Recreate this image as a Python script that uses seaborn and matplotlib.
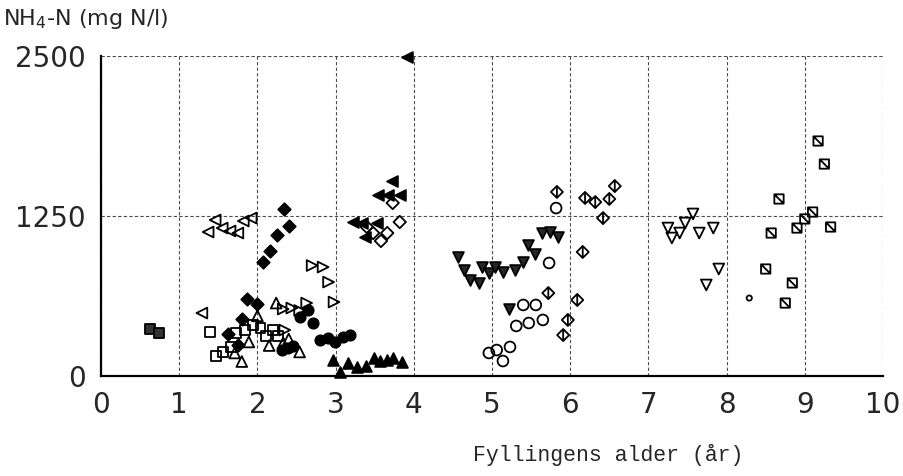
'''
NH4-N i sigevann mot fyllingens alder - gjenskaping av scannet figur
'''
import matplotlib
matplotlib.use("Agg")
import matplotlib.pyplot as plt
from matplotlib.path import Path
import numpy as np
import pandas as pd
import seaborn as sns

#%%
# data lest av figuren (x = alder i år, y = NH4-N mg N/l)
fsq_x = [0.63, 0.74]
fsq_y = [367, 336]

lt_open_x = [1.29, 1.37, 1.46, 1.55, 1.65, 1.75, 1.82, 1.92]
lt_open_y = [492, 1125, 1219, 1156, 1133, 1117, 1211, 1234]

dia_fill_x = [1.63, 1.75, 1.80, 1.87, 2.00, 2.07, 2.16, 2.25, 2.34, 2.40]
dia_fill_y = [328, 242, 445, 602, 562, 891, 977, 1102, 1305, 1172]

sq_open_x = [1.39, 1.47, 1.56, 1.66, 1.73, 1.84, 1.94, 2.04, 2.11, 2.20, 2.26]
sq_open_y = [344, 156, 188, 227, 336, 359, 398, 375, 312, 359, 312]

tri_open_x = [1.71, 1.80, 1.89, 2.00, 2.15, 2.24, 2.33, 2.40, 2.54]
tri_open_y = [180, 113, 266, 470, 238, 570, 258, 289, 188]

rt_open_x = [2.33, 2.35, 2.44, 2.54, 2.63, 2.70, 2.84, 2.91, 2.98]
rt_open_y = [523, 359, 531, 512, 570, 863, 851, 734, 578]

circ_fill_x = [2.31, 2.39, 2.46, 2.54, 2.65, 2.71, 2.80, 2.90, 2.99, 3.09, 3.18]
circ_fill_y = [203, 219, 234, 461, 516, 414, 281, 297, 266, 305, 320]

tri_fill_x = [2.97, 3.06, 3.16, 3.27, 3.39, 3.49, 3.57, 3.66, 3.73, 3.85]
tri_fill_y = [125, 31, 102, 70, 78, 141, 117, 125, 141, 109]

lt_fill_x = [3.22, 3.34, 3.38, 3.53, 3.54, 3.67, 3.72, 3.82, 3.91]
lt_fill_y = [1203, 1195, 1086, 1195, 1414, 1414, 1523, 1414, 2490]

dia_open_x = [3.40, 3.48, 3.58, 3.66, 3.73, 3.82]
dia_open_y = [1164, 1117, 1055, 1117, 1352, 1203]

dn_fill_x = [4.57, 4.64, 4.72, 4.83, 4.87, 4.96, 5.04, 5.14, 5.22, 5.29, 5.40,
             5.46, 5.55, 5.64, 5.74, 5.84]
dn_fill_y = [930, 828, 750, 727, 852, 805, 852, 813, 523, 828, 891,
             1023, 953, 1117, 1125, 1086]

circ_open_x = [4.96, 5.06, 5.14, 5.23, 5.31, 5.40, 5.47, 5.56, 5.65, 5.73, 5.82]
circ_open_y = [180, 203, 117, 227, 391, 555, 414, 555, 438, 883, 1312]

dia_bar_x = [5.72, 5.83, 5.91, 5.97, 6.09, 6.16, 6.19, 6.32, 6.42, 6.50, 6.57]
dia_bar_y = [648, 1438, 320, 438, 594, 969, 1391, 1359, 1234, 1383, 1484]

dn_open_x = [7.25, 7.30, 7.40, 7.47, 7.57, 7.65, 7.74, 7.83, 7.90]
dn_open_y = [1156, 1078, 1117, 1195, 1266, 1117, 711, 1156, 836]

small_circ_x = [8.29]
small_circ_y = [609]

sq_slash_x = [8.50, 8.57, 8.67, 8.75, 8.84, 8.90, 9.00, 9.10, 9.17, 9.25, 9.33]
sq_slash_y = [836, 1117, 1383, 570, 727, 1156, 1227, 1281, 1836, 1656, 1164]

x_ticks = list(range(0, 11))
y_ticks = [0, 1250, 2500]

#%%
# egne markører: kvadrat med diagonal og rute med loddrett strek
sq_diag = Path([(-1, -1), (1, -1), (1, 1), (-1, 1), (-1, -1), (-0.8, 0.8), (0.8, -0.8)],
               [Path.MOVETO, Path.LINETO, Path.LINETO, Path.LINETO, Path.CLOSEPOLY,
                Path.MOVETO, Path.LINETO])
dia_line = Path([(0, -1), (1, 0), (0, 1), (-1, 0), (0, -1), (0, 1), (0, -1)],
                [Path.MOVETO, Path.LINETO, Path.LINETO, Path.LINETO, Path.CLOSEPOLY,
                 Path.MOVETO, Path.LINETO])

# (x, y, markør, fyll, størrelse)
series = [
    (fsq_x, fsq_y, 's', '0.2', 45),
    (lt_open_x, lt_open_y, '<', 'none', 60),
    (sq_open_x, sq_open_y, 's', 'none', 50),
    (tri_open_x, tri_open_y, '^', 'none', 60),
    (rt_open_x, rt_open_y, '>', 'none', 60),
    (dia_fill_x, dia_fill_y, 'D', 'k', 40),
    (circ_fill_x, circ_fill_y, 'o', 'k', 55),
    (tri_fill_x, tri_fill_y, '^', 'k', 60),
    (lt_fill_x, lt_fill_y, '<', 'k', 60),
    (dia_open_x, dia_open_y, 'D', 'none', 40),
    (dn_fill_x, dn_fill_y, 'v', '0.15', 60),
    (circ_open_x, circ_open_y, 'o', 'none', 60),
    (dia_bar_x, dia_bar_y, dia_line, 'none', 75),
    (dn_open_x, dn_open_y, 'v', 'none', 60),
    (small_circ_x, small_circ_y, 'o', 'none', 14),
    (sq_slash_x, sq_slash_y, sq_diag, 'none', 45),
]

#%%
sns.set_style("white")
plt.rcParams['font.family'] = ['DejaVu Sans']

fig = plt.figure(figsize=(9.04, 4.76), dpi=100)
ax = fig.add_axes([101 / 904, 100 / 476, 782 / 904, 320 / 476])

for xs, ys, mk, fc, size in series:
    df = pd.DataFrame({'alder': xs, 'nh4': ys})
    sns.scatterplot(data=df, x='alder', y='nh4', ax=ax, marker=mk, s=size,
                    color='k', facecolor=fc, edgecolor='k', linewidth=1.3,
                    clip_on=False, zorder=3)

ax.set_xlim(0, 10)
ax.set_ylim(0, 2500)
ax.set_xticks(x_ticks)
ax.set_yticks(y_ticks)
ax.set_xticklabels([str(t) for t in x_ticks], fontsize=20)
ax.set_yticklabels([str(t) for t in y_ticks], fontsize=20)
ax.set_xlabel('')
ax.set_ylabel('')

# stiplet rutenett, hel akse ved 0
ax.grid(True, color='0.3', linestyle=(0, (3, 2)), linewidth=0.8)
for side in ['top', 'right']:
    ax.spines[side].set_visible(False)
for side in ['left', 'bottom']:
    ax.spines[side].set_color('k')
    ax.spines[side].set_linewidth(1.6)
ax.tick_params(axis='x', direction='out', length=5, width=1.0, color='k', pad=6)
ax.tick_params(axis='y', direction='out', length=7, width=1.0, color='k', pad=4)

fig.text(0.003, 0.985, r'NH$_4$-N (mg N/l)', fontsize=16, ha='left', va='top')
fig.text(0.673, 0.044, 'Fyllingens alder (år)', fontsize=15.5,
         family='Liberation Mono', ha='center', va='center')

plt.savefig('out.png', dpi=100)
